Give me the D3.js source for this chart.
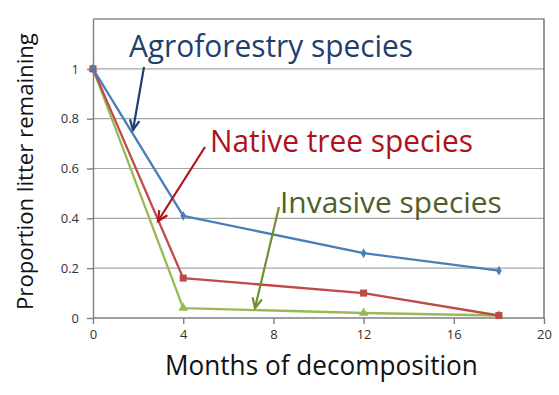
<!DOCTYPE html>
<html><head><meta charset="utf-8">
<script src="https://cdn.jsdelivr.net/npm/d3@7"></script>
<style>body{margin:0;background:#fff}svg{display:block}text{font-family:"Open Sans",sans-serif}</style>
</head><body><svg id="c" width="559" height="395"></svg>
<script>
const months = [0, 4, 12, 18];
const agroforestry = [1, 0.41, 0.26, 0.19];
const nativeTree = [1, 0.16, 0.10, 0.01];
const invasive = [1, 0.04, 0.02, 0.01];
const xTicks = [0, 4, 8, 12, 16, 20];
const yTicks = [0, 0.2, 0.4, 0.6, 0.8, 1];
const yGrid = [0.2, 0.4, 0.6, 0.8, 1];

const svg = d3.select("#c");
const x = d3.scaleLinear().domain([0, 20]).range([93, 544]);
const y = d3.scaleLinear().domain([0, 1.2]).range([318, 19]);

svg.append("g").selectAll("line").data(yGrid).join("line")
  .attr("x1", x(0)).attr("x2", x(20)).attr("y1", d => y(d)).attr("y2", d => y(d))
  .attr("stroke", "#a6a6a6").attr("stroke-width", 1.2);
svg.append("path").attr("d", `M${x(0)},${y(1.2)}H${x(20)}V${y(0)}`)
  .attr("fill", "none").attr("stroke", "#555").attr("stroke-width", 1.2);

const xAxis = svg.append("g").attr("transform", `translate(0,${y(0)})`)
  .call(d3.axisBottom(x).tickValues(xTicks).tickSize(6).tickSizeOuter(0).tickPadding(6));
const yAxis = svg.append("g").attr("transform", `translate(${x(0)},0)`)
  .call(d3.axisLeft(y).tickValues(yTicks).tickSize(6).tickSizeOuter(0).tickPadding(8).tickFormat(d3.format("~g")));
[xAxis, yAxis].forEach(a => {
  a.selectAll("path,line").attr("stroke", "#7f7f7f").attr("stroke-width", 1.4);
  a.selectAll("text").attr("font-size", 13).attr("fill", "#333").attr("font-family", "Open Sans");
});
xAxis.select(".domain").attr("d", `M${x(0)},0H${x(20)}`);

const series = [
  {vals: agroforestry, color: "#4a7ebb", shape: d3.symbolDiamond, size: 28},
  {vals: nativeTree, color: "#be4b48", shape: d3.symbolSquare, size: 50},
  {vals: invasive, color: "#98b954", shape: d3.symbolTriangle, size: 40}
];
const line = d3.line().x(d => x(d[0])).y(d => y(d[1]));
series.slice().reverse().forEach(s => {
  const pts = months.map((m, i) => [m, s.vals[i]]);
  svg.append("path").datum(pts).attr("d", line).attr("fill", "none")
    .attr("stroke", s.color).attr("stroke-width", 2.3).attr("stroke-linejoin", "round");
});
series.slice().reverse().forEach(s => {
  const pts = months.map((m, i) => [m, s.vals[i]]);
  svg.append("g").selectAll("path").data(pts).join("path")
    .attr("transform", d => `translate(${x(d[0])},${y(d[1])})`)
    .attr("d", d3.symbol().type(s.shape).size(s.size)).attr("fill", s.color);
});

// place text fitted to a target width and a target cap height
function fitLabel(txt, tx, ty, w, cap, color, rot) {
  const g = svg.append("g");
  const t = g.append("text").attr("font-size", 30).attr("fill", color).text(txt);
  const fs = 30 * w / t.node().getComputedTextLength();
  t.attr("font-size", fs);
  const k = cap / (0.714 * fs);
  g.attr("transform", `translate(${tx},${ty})${rot ? " rotate(" + rot + ")" : ""} scale(1,${k})`);
}

function arrow(x1, y1, x2, y2, color) {
  const ang = Math.atan2(y2 - y1, x2 - x1);
  const L = 11, a = 0.45;
  const p1 = [x2 - L * Math.cos(ang - a), y2 - L * Math.sin(ang - a)];
  const p2 = [x2 - L * Math.cos(ang + a), y2 - L * Math.sin(ang + a)];
  svg.append("line").attr("x1", x1).attr("y1", y1).attr("x2", x2).attr("y2", y2)
    .attr("stroke", color).attr("stroke-width", 2.2);
  svg.append("path").attr("d", `M${p1}L${x2},${y2}L${p2}`).attr("fill", "none")
    .attr("stroke", color).attr("stroke-width", 2.2).attr("stroke-linejoin", "miter");
}

fitLabel("Agroforestry species", 129, 57, 284, 22, "#1f3f6e");
fitLabel("Native tree species", 210, 152, 263, 22, "#b0121b");
fitLabel("Invasive species", 280, 213, 222, 21, "#4f5f2a");
arrow(144, 67, 133, 130, "#1f3f6e");
arrow(205, 147, 158, 221, "#b0121b");
arrow(279, 207, 255, 308, "#6f8f32");

fitLabel("Months of decomposition", 165, 375, 313, 20, "#111");
fitLabel("Proportion litter remaining", 33, 310, 277, 16, "#111", -90);
</script></body></html>
